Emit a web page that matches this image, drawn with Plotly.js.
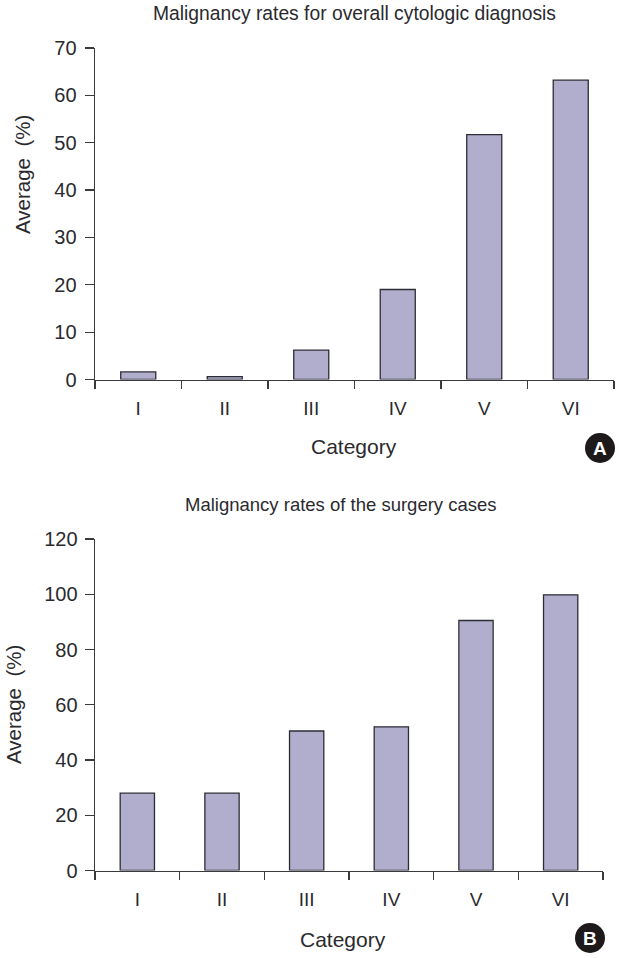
<!DOCTYPE html>
<html><head><meta charset="utf-8">
<script src="https://cdn.plot.ly/plotly-3.0.1.min.js"></script>
<style>html,body{margin:0;padding:0;background:#fff}</style></head>
<body><div id="chart" style="width:623px;height:958px"></div>
<script>
const categories = ["I","II","III","IV","V","VI"];
const overallRates = [1.6,0.6,6.2,19,51.7,63.2];
const surgeryRates = [28,28,50.5,52,90.5,99.8];
const W=623,H=958;
const textColor="#2a2a2e", lineColor="#3a3a3e", barColor="#b1adcd";
const font={family:"Liberation Sans, Arial, sans-serif",size:18,color:textColor};
const bar=(y,xa,ya)=>({type:"bar",x:categories,y,xaxis:xa,yaxis:ya,
  marker:{color:barColor,line:{color:"#2c2c34",width:1.3}},hoverinfo:"x+y"});
const xAxis=(l,r,anchor)=>({domain:[l/W,r/W],anchor,type:"category",categoryorder:"array",categoryarray:categories,
  tickson:"boundaries",ticks:"outside",ticklen:8,tickwidth:1.2,tickcolor:lineColor,
  showline:true,linecolor:lineColor,linewidth:1.4,showgrid:false,zeroline:false,ticklabelstandoff:11,
  tickfont:{size:19,color:textColor}});
const yAxis=(b,t,anchor,max,dtick,off)=>({domain:[(H-b)/H,(H-t)/H],anchor,range:[0,max],dtick,
  ticks:"outside",ticklen:9,tickwidth:1.2,tickcolor:lineColor,
  showline:true,linecolor:lineColor,linewidth:1.4,showgrid:false,zeroline:false,ticklabelstandoff:off,
  tickfont:{size:20,color:textColor}});
const note=(text,x,y,size,color,angle)=>({text,x:x/W,y:(H-y)/H,xref:"paper",yref:"paper",xanchor:"center",yanchor:"middle",showarrow:false,textangle:angle||0,font:{size,color}});
const badge=(cx,cy,r)=>({type:"circle",xref:"paper",yref:"paper",x0:(cx-r)/W,x1:(cx+r)/W,y0:(H-cy-r)/H,y1:(H-cy+r)/H,fillcolor:"#1e1a1c",line:{width:0}});
const layout={width:W,height:H,margin:{l:0,r:0,t:0,b:0},paper_bgcolor:"#fff",plot_bgcolor:"#fff",font,showlegend:false,
  bargap:0.595,
  xaxis:xAxis(95,614,"y"),yaxis:yAxis(379.5,48,"x",70,10,4),
  xaxis2:xAxis(95,603,"y2"),yaxis2:yAxis(870.5,539,"x2",120,20,3),
  annotations:[
    note("Malignancy rates for overall cytologic diagnosis",354,14,19.3,textColor),
    note("Malignancy rates of the surgery cases",341,504,18.5,textColor),
    note("Category",354,446,21,textColor),
    note("Category",343,939,21,textColor),
    note("Average  (%)",23,175,20.5,textColor,-90),
    note("Average  (%)",13,705,20.5,textColor,-90),
    note("<b>A</b>",600,448,19,"#fff"),
    note("<b>B</b>",590,938,19,"#fff")
  ],
  shapes:[badge(600,448,15),badge(590,938,15)]
};
Plotly.newPlot("chart",[bar(overallRates,"x","y"),bar(surgeryRates,"x2","y2")],layout,{displayModeBar:false,staticPlot:true});
</script></body></html>
